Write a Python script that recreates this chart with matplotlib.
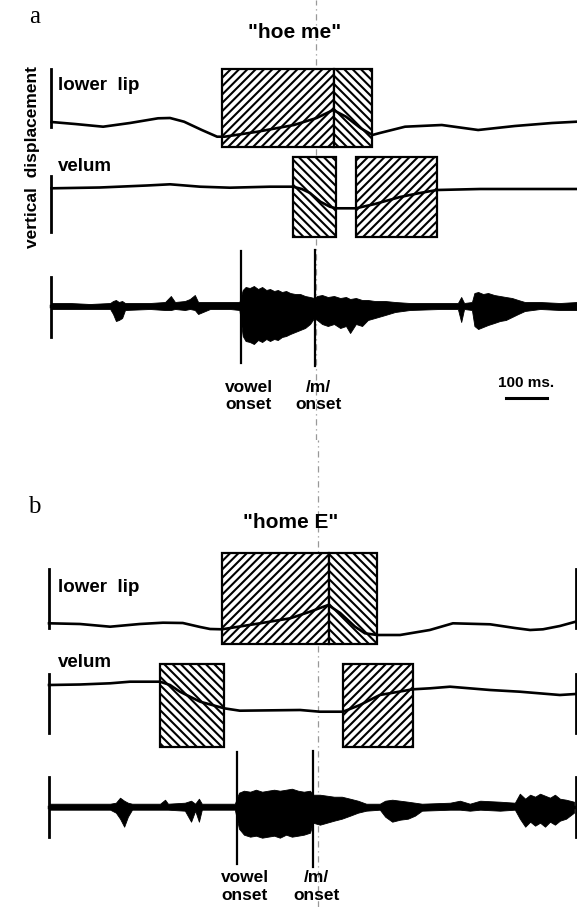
import numpy as np
import matplotlib.pyplot as plt
from matplotlib.patches import Rectangle

plt.rcParams['font.family'] = ['Liberation Sans', 'DejaVu Sans']
plt.rcParams['hatch.linewidth'] = 1.5

# ---- data (time in ms, displacement in arbitrary units, + = up) ----
# panel a: "hoe me"
lip_a_t = [0, 57, 125, 190, 258, 287, 321, 364, 401, 419, 499, 587, 642, 662, 682,
           713, 749, 777, 795, 856, 945, 1033, 1122, 1212, 1272]
lip_a_y = [0, -2, -4.7, -1, 3.7, 4, 0.3, -8, -14.7, -14.7, -9.7, -3, 4, 8, 12,
           5.3, -6.3, -13, -11, -4.7, -3, -8, -4, -1, 0.3]
vel_a_t = [0, 117, 231, 287, 360, 432, 529, 585, 606, 626, 651, 674, 689, 737,
           783, 844, 892, 933, 1038, 1272]
vel_a_y = [-0.3, 0.5, 2.5, 3.7, 1.3, 0.3, 1.3, 1.3, -1, -5, -13.7, -18.7, -20.3, -20.3,
           -16, -9, -5, -2, -1, -1]
aud_a_t = [0, 45, 93, 142, 149, 156, 163, 171, 178, 238, 275, 289, 299, 323, 335, 347,
           355, 384, 432, 455, 463, 470, 480, 490, 500, 510, 520, 529, 539, 548, 558,
           568, 578, 590, 602, 614, 626, 636, 643, 655, 669, 684, 699, 713, 723, 737,
           752, 766, 783, 808, 832, 868, 941, 984, 992, 999, 1018, 1024, 1033, 1045,
           1057, 1072, 1086, 1100, 1115, 1130, 1146, 1183, 1231, 1272]
aud_a_up = [3, 3, 2, 3, 5, 6, 4, 5, 3, 3, 4, 10, 4, 5, 7, 11,
            4, 4, 4, 4, 16, 19, 18, 20, 17, 19, 16, 17, 15, 16, 14,
            15, 13, 12, 12, 10, 9, 8, 10, 11, 9, 10, 8, 9, 7, 8,
            6, 6, 5, 5, 4, 3, 3, 3, 9, 3, 4, 13, 14, 12,
            13, 11, 10, 9, 8, 6, 4, 4, 3, 4]
aud_a_dn = [3, 3, 3, 3, 8, 15, 14, 12, 4, 3, 4, 4, 3, 4, 3, 4,
            8, 3, 3, 4, 30, 35, 36, 38, 34, 36, 33, 35, 33, 34, 31,
            30, 28, 26, 24, 22, 18, 12, 14, 18, 20, 18, 22, 20, 27, 18,
            20, 14, 12, 9, 6, 4, 3, 3, 16, 3, 4, 20, 23, 21,
            19, 17, 15, 14, 11, 8, 5, 3, 4, 4]
lip_a_boxes = [(412, 684, '////'), (684, 777, '\\\\\\\\')]
vel_a_boxes = [(585, 688, '\\\\\\\\'), (737, 933, '////')]
onsets_a = [459, 638]

# panel b: "home E"
lip_b_t = [0, 75, 148, 220, 276, 324, 366, 390, 419, 511, 584, 632, 676, 705, 741,
           765, 794, 850, 922, 978, 1068, 1128, 1165, 1196, 1237, 1275]
lip_b_y = [0, -0.7, -3.4, -0.7, 0.6, 0.3, -3.7, -5.7, -6, 0, 5, 11.6, 18.3, 10.3, -3.4,
           -10, -11.7, -11.7, -6.7, 0, -1, -4.7, -6.7, -6, -2.7, 1.6]
vel_b_t = [0, 75, 148, 196, 269, 293, 317, 366, 424, 462, 608, 656, 712, 753, 801,
           881, 923, 971, 1068, 1140, 1237, 1275]
vel_b_y = [-1, -0.5, 0.7, 2.3, 2.3, -1, -7.7, -17.7, -24.3, -26.7, -26, -27.7, -27.7,
           -21, -11, -5.3, -4.3, -2.7, -6, -7.7, -11, -10]
aud_b_t = [0, 75, 148, 162, 172, 182, 191, 201, 269, 281, 288, 329, 344, 354, 363, 370,
           450, 460, 472, 487, 501, 516, 530, 545, 559, 574, 588, 603, 617, 632, 639,
           656, 673, 690, 709, 729, 748, 768, 801, 814, 831, 850, 869, 886, 903, 971,
           995, 1019, 1044, 1092, 1128, 1140, 1153, 1165, 1177, 1189, 1201, 1213, 1225,
           1237, 1252, 1271]
aud_b_up = [3, 3, 3, 4, 9, 6, 4, 3, 3, 7, 3, 4, 6, 3, 8, 3,
            3, 14, 16, 15, 17, 15, 16, 17, 16, 17, 18, 16, 15, 16, 12,
            12, 11, 10, 10, 8, 6, 3, 3, 6, 7, 6, 5, 4, 3, 4,
            6, 3, 6, 5, 4, 13, 8, 12, 10, 13, 11, 9, 12,
            8, 7, 5]
aud_b_dn = [3, 3, 3, 6, 12, 20, 10, 3, 3, 3, 3, 4, 15, 4, 15, 3,
            3, 22, 28, 30, 29, 31, 30, 29, 31, 28, 30, 29, 28, 26, 16,
            18, 16, 14, 12, 9, 6, 4, 3, 10, 15, 13, 12, 9, 4, 3,
            3, 4, 3, 4, 3, 12, 20, 15, 19, 16, 20, 15, 18,
            14, 12, 6]
lip_b_boxes = [(420, 678, '////'), (678, 794, '\\\\\\\\')]
vel_b_boxes = [(269, 424, '\\\\\\\\'), (713, 881, '////')]
onsets_b = [456, 639]

W, H = 577, 907
PX_MS = 0.413
fig = plt.figure(figsize=(5.77, 9.07), dpi=100)


def panel(top, bottom, x0, rows, lip, vel, aud, lbox, vbox, onsets, bars,
          lip_box_y, vel_box_y, right_bars, guide, scalebar, label_dy):
    ax = fig.add_axes([0, 1 - bottom / H, 1, (bottom - top) / H])
    ax.set_xlim(-x0 / PX_MS, (W - x0) / PX_MS)
    ax.set_ylim(0, bottom - top)
    ax.axis('off')
    b_lip, b_vel, b_aud = [bottom - r for r in rows]

    # hatched boxes
    for t0, t1, h in lbox:
        ax.add_patch(Rectangle((t0, b_lip + lip_box_y[0]), t1 - t0, lip_box_y[1] - lip_box_y[0],
                               facecolor='white', edgecolor='black', hatch=h, lw=1.6, zorder=2))
    for t0, t1, h in vbox:
        ax.add_patch(Rectangle((t0, b_vel + vel_box_y[0]), t1 - t0, vel_box_y[1] - vel_box_y[0],
                               facecolor='white', edgecolor='black', hatch=h, lw=1.6, zorder=2))

    ax.plot(lip[0], b_lip + np.array(lip[1]), color='black', lw=1.9, zorder=3)
    ax.plot(vel[0], b_vel + np.array(vel[1]), color='black', lw=1.9, zorder=3)
    at = np.array(aud[0])
    ax.fill_between(at, b_aud + np.array(aud[1]), b_aud - np.array(aud[2]),
                    color='black', lw=0.6, zorder=3)
    ax.plot(at, np.full(len(at), b_aud), color='black', lw=2.5, zorder=3)

    # calibration bars
    xs = [0] + ([lip[0][-1]] if right_bars else [])
    for x in xs:
        for base, (lo, hi) in zip([b_lip, b_vel, b_aud], bars):
            ax.plot([x, x], [base + lo, base + hi], color='black', lw=2, zorder=4)

    # onset markers
    for t, (lo, hi) in zip(onsets, [(-57, 55), (-60, 56)]):
        ax.plot([t, t], [b_aud + lo, b_aud + hi], color='black', lw=1.6, zorder=4)

    ax.axvline(guide, color='0.6', lw=0.9, ls=(0, (5, 3, 1, 3)), zorder=1)

    lx = (58 - x0) / PX_MS
    ax.text(lx, b_lip + 36, 'lower  lip', ha='left', va='center', fontsize=13.5, fontweight='bold')
    ax.text(lx, b_vel + 21.5, 'velum', ha='left', va='center', fontsize=13.5, fontweight='bold')
    ax.text(onsets[0] + 18, b_aud - label_dy, 'vowel\nonset', ha='center', va='center',
            fontsize=12.5, fontweight='bold', linespacing=1.2)
    ax.text(onsets[1] + 9, b_aud - label_dy, '/m/\nonset', ha='center', va='center',
            fontsize=12.5, fontweight='bold', linespacing=1.2)
    if scalebar:
        ax.plot([1100, 1200], [b_aud - 92, b_aud - 92], color='black', lw=2.2)
        ax.text(1150, b_aud - 77, '100 ms.', ha='center', va='center', fontsize=11,
                fontweight='bold')
    return ax


panel(0, 440, 51.5, (122, 188, 306),
      (lip_a_t, lip_a_y), (vel_a_t, vel_a_y), (aud_a_t, aud_a_up, aud_a_dn),
      lip_a_boxes, vel_a_boxes, onsets_a,
      [(-5, 53), (-43.7, 12.3), (-30.7, 29.3)],
      (-25.3, 53), (-48.7, 30.7), False, 641, True, 90)
panel(440, 907, 49, (623.3, 684, 806.7),
      (lip_b_t, lip_b_y), (vel_b_t, vel_b_y), (aud_b_t, aud_b_up, aud_b_dn),
      lip_b_boxes, vel_b_boxes, onsets_b,
      [(-4.7, 54.3), (-49, 10), (-30, 29.4)],
      (-21, 70), (-62.5, 20), True, 652, False, 80)

fig.text(295 / W, 1 - 32 / H, '"hoe me"', ha='center', va='center', fontsize=15, fontweight='bold')
fig.text(291 / W, 1 - 523 / H, '"home E"', ha='center', va='center', fontsize=15, fontweight='bold')
fig.text(35 / W, 1 - 17 / H, 'a', ha='center', va='center', fontsize=18, family='Liberation Serif')
fig.text(34.5 / W, 1 - 507 / H, 'b', ha='center', va='center', fontsize=18, family='Liberation Serif')
fig.text(33 / W, 1 - 157 / H, 'vertical  displacement', rotation=90, ha='center', va='center',
         fontsize=12.5, fontweight='bold')

fig.savefig('out.png', dpi=100, facecolor='white')
